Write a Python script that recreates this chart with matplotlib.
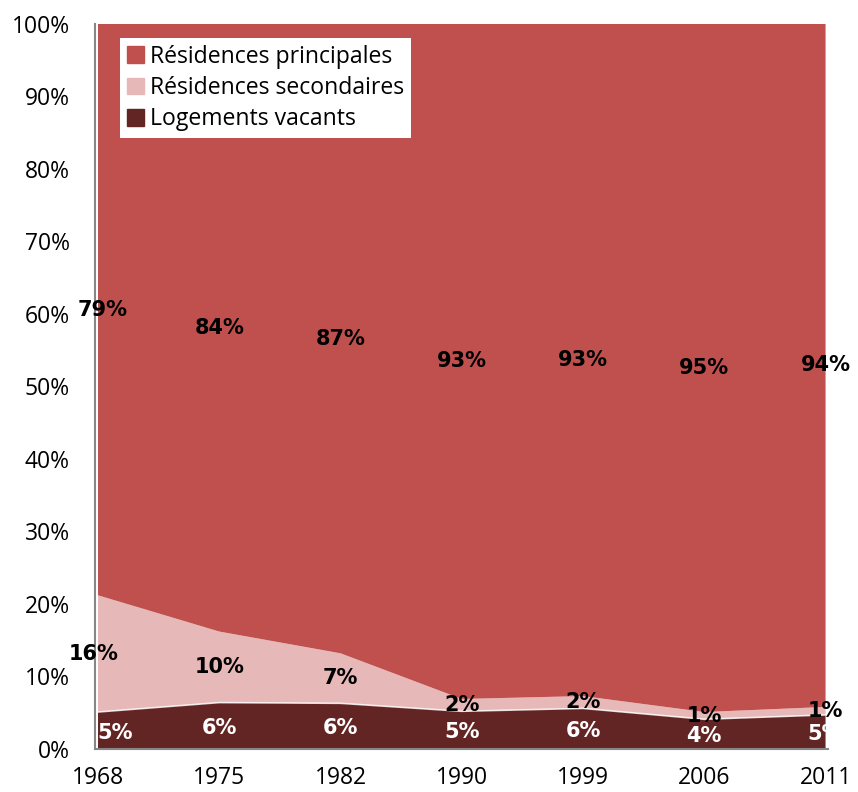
import matplotlib
matplotlib.use("Agg")
from matplotlib import pyplot as plt
from matplotlib.patches import Patch
import numpy as np

years = ["1968", "1975", "1982", "1990", "1999", "2006", "2011"]
vacants = [5.1, 6.4, 6.3, 5.2, 5.6, 4.1, 4.7]
secondaires = [16.1, 9.8, 6.9, 1.7, 1.7, 1.0, 1.1]
principales = [100 - v - s for v, s in zip(vacants, secondaires)]

series_names = ["Résidences principales", "Résidences secondaires", "Logements vacants"]
colors = {"principales": "#C0504D", "secondaires": "#E6B9B8", "vacants": "#632523"}

LABEL_FONT = ["Liberation Sans Narrow", "DejaVu Sans"]
TICK_FONT = ["Open Sans", "DejaVu Sans"]


def main():
    fig = plt.figure(figsize=(8.58, 7.92), dpi=100)
    ax = fig.add_axes([0.1107, 0.0543, 0.8543, 0.9154])

    x = np.arange(len(years))
    v = np.array(vacants)
    s = np.array(secondaires)
    p = np.array(principales)

    ax.stackplot(x, v, s, p,
                 colors=[colors["vacants"], colors["secondaires"], colors["principales"]],
                 linewidth=0)
    # thin white line between vacants and secondaires, as in the original
    ax.plot(x, v, color="white", lw=1.2, alpha=0.8)

    # data labels at the middle of each band
    for i in range(len(years)):
        off_p = 0.04 if i == 0 else 0
        off_s = -0.04 if i == 0 else 0
        off_v = 0.14 if i == 0 else 0
        ax.text(x[i] + off_p, v[i] + s[i] + p[i] / 2, f"{round(p[i]):d}%",
                ha="center", va="center", fontsize=15, fontweight="bold",
                family=LABEL_FONT, color="black", clip_on=False)
        ax.text(x[i] + off_s, v[i] + s[i] / 2, f"{round(s[i]):d}%",
                ha="center", va="center", fontsize=15, fontweight="bold",
                family=LABEL_FONT, color="black", clip_on=False)
        ax.text(x[i] + off_v, v[i] / 2 - 0.3, f"{round(v[i]):d}%",
                ha="center", va="center", fontsize=15, fontweight="bold",
                family=LABEL_FONT, color="white", clip_on=False)

    ax.set_xlim(-0.025, 6.02)
    ax.set_ylim(0, 100)
    ax.set_xticks(x)
    ax.set_xticklabels(years, family=TICK_FONT, fontsize=16.5)
    ax.set_yticks(np.arange(0, 101, 10))
    ax.set_yticklabels([f"{t}%" for t in range(0, 101, 10)], family=TICK_FONT, fontsize=16.5)
    ax.tick_params(axis="x", length=0, pad=12)
    ax.tick_params(axis="y", length=0, pad=18)

    for side in ["top", "right"]:
        ax.spines[side].set_visible(False)
    for side in ["left", "bottom"]:
        ax.spines[side].set_color("#868686")
        ax.spines[side].set_linewidth(1.5)

    handles = [Patch(color=colors["principales"]),
               Patch(color=colors["secondaires"]),
               Patch(color=colors["vacants"])]
    leg = ax.legend(handles, series_names, loc="upper left",
                    bbox_to_anchor=(0.034, 0.981), frameon=True, fancybox=False,
                    edgecolor="white", framealpha=1, handlelength=0.75,
                    handleheight=0.75, handletextpad=0.25, labelspacing=0.32,
                    borderpad=0.3, borderaxespad=0,
                    prop={"family": TICK_FONT, "size": 16.6})
    leg.get_frame().set_linewidth(0)

    fig.savefig("out.png", dpi=100)


if __name__ == '__main__':
    main()
